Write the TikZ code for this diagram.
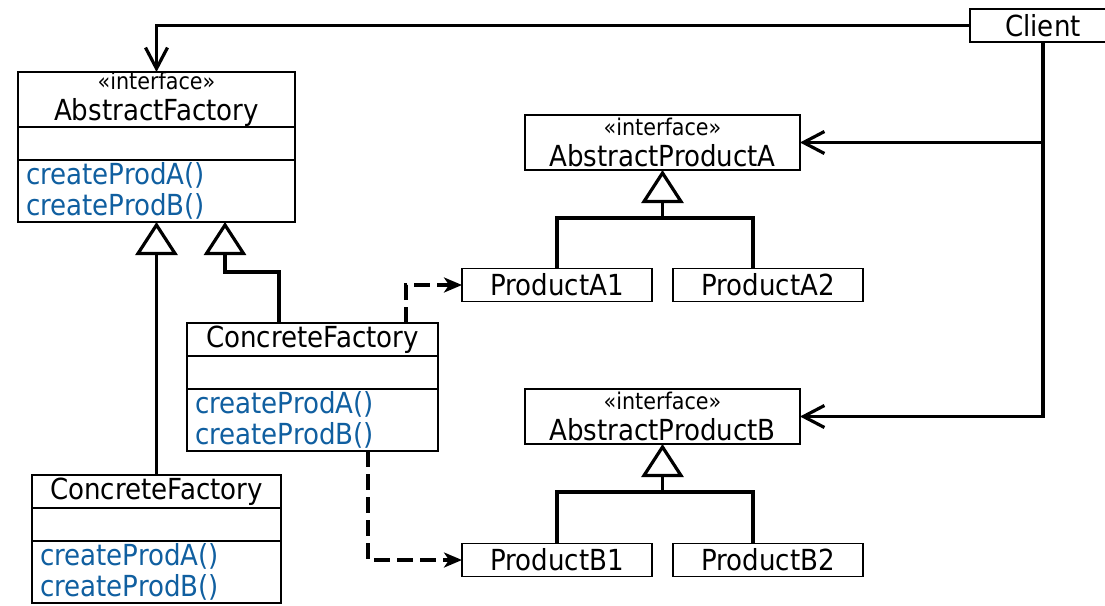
\documentclass[tikz,border=0pt]{standalone}
\usepackage{fontspec}
\setmainfont{DejaVu Sans}[FakeStretch=0.9]
\usepackage{tikz}
\usetikzlibrary{arrows.meta, positioning, calc}
\definecolor{opblue}{RGB}{16,95,160}
\tikzset{
    classbox/.style={rectangle, draw, line width=1.5pt, outer sep=0pt, inner sep=0pt, align=center, font=\fontsize{29}{31}\selectfont},
    methods/.style={classbox, align=left, text=opblue, inner xsep=8pt},
    assoc/.style={line width=3.2pt, -{Straight Barb[length=21pt, width=22pt]}},
    inherit/.style={line width=3.2pt, -{Triangle[open, length=33pt, width=42pt]}},
    link/.style={line width=3.2pt},
    depend/.style={line width=3.2pt, dash pattern=on 16pt off 7pt, -{Stealth[length=18pt, width=15pt, inset=5pt]}}
}
\newcommand{\stereotype}[1]{{\fontsize{23}{26}\selectfont «#1»}}

\begin{document}
\begin{tikzpicture}[x=1pt, y=-1pt]
    \useasboundingbox (0,0) rectangle (1105,605);

    % Client
    \node (client) [classbox, minimum width=146pt, minimum height=33pt] at (1043,25.5) {Client};

    % Factories
    \node (af) [classbox, minimum width=277pt, minimum height=55pt] at (156.5,99.5) {\stereotype{interface}\\AbstractFactory};
    \node (afattr) [classbox, minimum width=277pt, minimum height=33pt, below=0pt of af] {};
    \node (afops) [methods, text width=261pt, minimum height=62pt, below=0pt of afattr] {createProdA()\\createProdB()};

    \node (cf1) [classbox, minimum width=251pt, minimum height=33pt] at (312.5,339.5) {ConcreteFactory};
    \node (cf1attr) [classbox, minimum width=251pt, minimum height=33pt, below=0pt of cf1] {};
    \node (cf1ops) [methods, text width=235pt, minimum height=62pt, below=0pt of cf1attr] {createProdA()\\createProdB()};

    \node (cf2) [classbox, minimum width=249pt, minimum height=33pt] at (156.5,491.5) {ConcreteFactory};
    \node (cf2attr) [classbox, minimum width=249pt, minimum height=33pt, below=0pt of cf2] {};
    \node (cf2ops) [methods, text width=233pt, minimum height=62pt, below=0pt of cf2attr] {createProdA()\\createProdB()};

    % Products
    \node (apa) [classbox, minimum width=275pt, minimum height=55pt] at (662.5,142.5) {\stereotype{interface}\\AbstractProductA};
    \node (pa1) [classbox, minimum width=190pt, minimum height=33pt] at (557,285) {ProductA1};
    \node (pa2) [classbox, minimum width=190pt, minimum height=33pt, right=21pt of pa1] {ProductA2};

    \node (apb) [classbox, minimum width=275pt, minimum height=55pt] at (662.5,416.5) {\stereotype{interface}\\AbstractProductB};
    \node (pb1) [classbox, minimum width=190pt, minimum height=33pt] at (557,560) {ProductB1};
    \node (pb2) [classbox, minimum width=190pt, minimum height=33pt, right=21pt of pb1] {ProductB2};

    \coordinate (pajoin) at (662.5,218);
    \coordinate (pbjoin) at (662.5,492);

    % Client uses the interfaces
    \draw [assoc] (client.west) -| (af.north);
    \draw [assoc] (client.south) |- (apa.east);
    \draw [assoc] (client.south) |- (apb.east);

    % Inheritance
    \draw [inherit] (cf2.north) -- (afops.south);
    \draw [inherit] ([xshift=-33.5pt]cf1.north) -- ++(0,-51) -| ([xshift=68.5pt]afops.south);
    \draw [inherit] (pajoin) -- (apa.south);
    \draw [link] (pa1.north) |- (pajoin) -| ([xshift=-15pt]pa2.north);
    \draw [inherit] (pbjoin) -- (apb.south);
    \draw [link] (pb1.north) |- (pbjoin) -| ([xshift=-15pt]pb2.north);

    % Creates
    \draw [depend] ([xshift=93.5pt]cf1.north) |- (pa1.west);
    \draw [depend] ([xshift=55.5pt]cf1ops.south) |- (pb1.west);

\end{tikzpicture}
\end{document}
